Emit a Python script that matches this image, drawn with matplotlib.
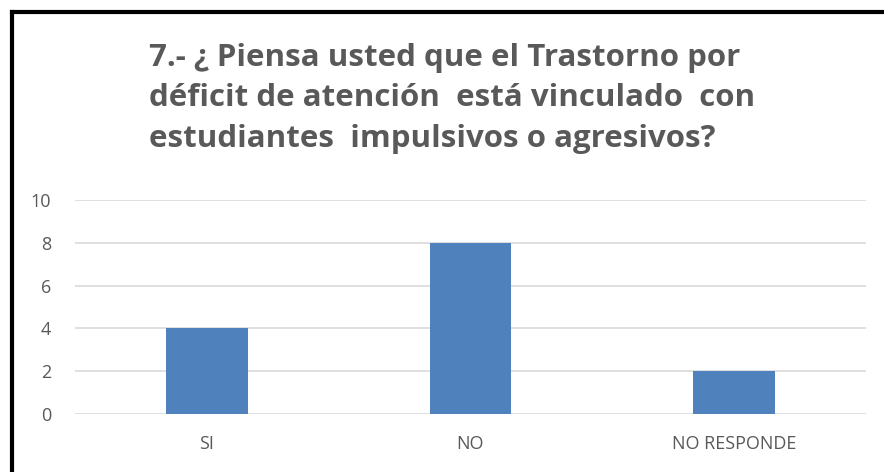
import matplotlib
matplotlib.use("Agg")
import matplotlib.pyplot as plt
from matplotlib.lines import Line2D

categories = ["SI", "NO", "NO RESPONDE"]
values = [4, 8, 2]
yticks = [0, 2, 4, 6, 8, 10]
title = ("7.- ¿ Piensa usted que el Trastorno por\n"
         "déficit de atención  está vinculado  con\n"
         "estudiantes  impulsivos o agresivos?")

plt.rcParams['font.family'] = ['Open Sans', 'DejaVu Sans']

fig = plt.figure(figsize=(8.84, 4.72), dpi=100)
ax = fig.add_axes([75/884, 58/472, (866-75)/884, (414-200)/472])

x = list(range(len(categories)))
ax.bar(x, values, width=0.31, color="#4F81BD", zorder=3)
ax.set_xlim(-0.5, 2.5)
ax.set_ylim(0, 10)
ax.set_yticks(yticks)
ax.set_xticks(x)
ax.set_xticklabels(categories)
ax.grid(axis='y', color="#D9D9D9", linewidth=1.2, zorder=0)
for s in ax.spines.values():
    s.set_visible(False)
ax.tick_params(axis='both', length=0, labelsize=13, colors="#595959")
ax.tick_params(axis='x', pad=15)
ax.tick_params(axis='y', pad=17)

fig.text(452/884, 1 - 43/472, title, ha='center', va='top', multialignment='left',
         fontsize=22.5, fontweight='bold', color="#595959", linespacing=1.45)

# border
fig.add_artist(Line2D([12/884, 12/884], [0, 1 - 12/472], color='black', linewidth=3, transform=fig.transFigure))
fig.add_artist(Line2D([12/884, 1], [1 - 12/472, 1 - 12/472], color='black', linewidth=3, transform=fig.transFigure))

fig.savefig("out.png", dpi=100)
